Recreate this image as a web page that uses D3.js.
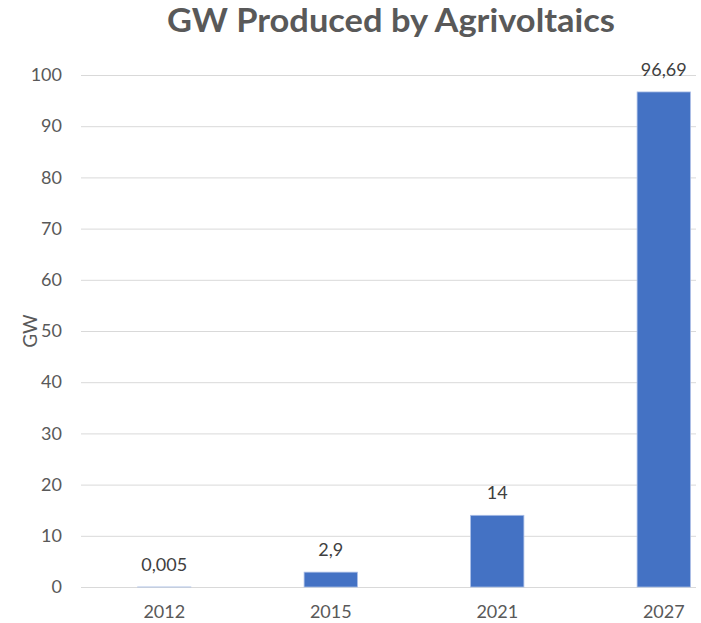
<!DOCTYPE html>
<html>
<head>
<meta charset="utf-8">
<script src="https://cdn.jsdelivr.net/npm/d3@7"></script>
<style>
  html, body { margin: 0; padding: 0; background: #fff; }
  svg { display: block; font-family: Lato, "Open Sans", sans-serif; }
</style>
</head>
<body>
<svg id="chart" width="701" height="623"></svg>
<script>
// Installed agrivoltaic capacity, in GW
const years = ["2012", "2015", "2021", "2027"];
const capacityGW = [0.005, 2.9, 14, 96.69];
const yTicks = [0, 10, 20, 30, 40, 50, 60, 70, 80, 90, 100];
const chartTitle = "GW Produced by Agrivoltaics";
const yAxisTitle = "GW";

const svg = d3.select("#chart");
const plot = { left: 81, right: 747, top: 75, bottom: 587, gridEnd: 696 };

const x = d3.scaleBand().domain(years).range([plot.left, plot.right]).paddingInner(0.68).paddingOuter(0.34);
const y = d3.scaleLinear().domain([0, 100]).range([plot.bottom, plot.top]);

// European number format (decimal comma)
const fmt = d3.formatLocale({ decimal: ",", thousands: ".", grouping: [3], currency: ["", " €"] }).format("~g");

// Title
svg.append("text")
  .attr("x", 391).attr("y", 32)
  .attr("text-anchor", "middle")
  .attr("font-size", 32).attr("font-weight", 700)
  .attr("textLength", 448).attr("lengthAdjust", "spacingAndGlyphs")
  .attr("fill", "#595959")
  .text(chartTitle);

// Horizontal gridlines
svg.append("g").selectAll("line").data(yTicks).join("line")
  .attr("x1", plot.left).attr("x2", plot.gridEnd)
  .attr("y1", d => y(d) + 0.5).attr("y2", d => y(d) + 0.5)
  .attr("stroke", "#d9d9d9").attr("stroke-width", 1);

// Y axis labels (axis line hidden)
const yAxis = svg.append("g")
  .attr("transform", `translate(${plot.left - 13},0)`)
  .call(d3.axisLeft(y).tickValues(yTicks).tickSize(0).tickPadding(6));
yAxis.select(".domain").remove();
yAxis.selectAll("text")
  .attr("font-size", 18).attr("fill", "#595959")
  .attr("font-family", "Lato, 'Open Sans', sans-serif");

// Y axis title
svg.append("text")
  .attr("transform", "translate(37,331) rotate(-90)")
  .attr("text-anchor", "middle")
  .attr("font-size", 19).attr("fill", "#595959")
  .text(yAxisTitle);

// X axis labels
const xAxis = svg.append("g")
  .attr("transform", `translate(0,${plot.bottom + 14})`)
  .call(d3.axisBottom(x).tickSize(0).tickPadding(4));
xAxis.select(".domain").remove();
xAxis.selectAll("text")
  .attr("font-size", 18).attr("fill", "#595959")
  .attr("font-family", "Lato, 'Open Sans', sans-serif");

const data = years.map((yr, i) => ({ year: yr, value: capacityGW[i] }));

// Bars
svg.append("g").selectAll("rect").data(data).join("rect")
  .attr("x", d => x(d.year))
  .attr("y", d => y(d.value))
  .attr("width", x.bandwidth())
  .attr("height", d => y(0) - y(d.value))
  .attr("fill", "#4472c4")
  .attr("stroke", "#a9bde6").attr("stroke-width", 0.8);

// Value labels
svg.append("g").selectAll("text").data(data).join("text")
  .attr("x", d => x(d.year) + x.bandwidth() / 2)
  .attr("y", d => y(d.value) - 16)
  .attr("text-anchor", "middle")
  .attr("font-size", 18).attr("fill", "#404040")
  .text(d => fmt(d.value));
</script>
</body>
</html>
